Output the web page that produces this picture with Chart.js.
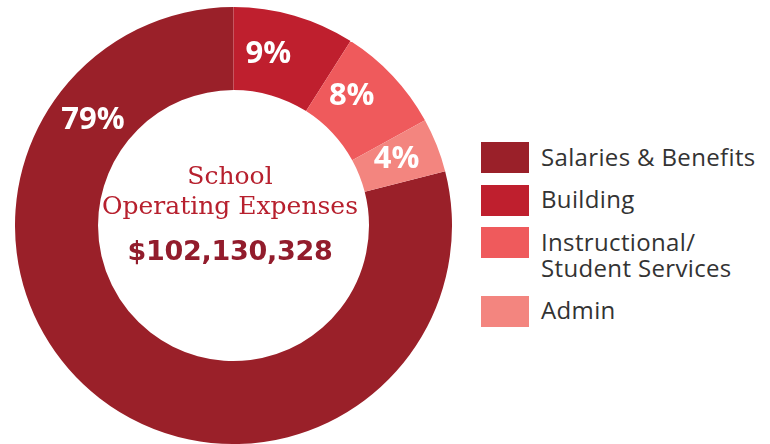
<!DOCTYPE html>
<html>
<head>
<meta charset="utf-8">
<script src="https://cdn.jsdelivr.net/npm/chart.js@4.4.1/dist/chart.umd.min.js"></script>
<style>
  html, body { margin: 0; padding: 0; background: #fff; }
  #root { position: relative; width: 770px; height: 444px; overflow: hidden; }
  #chartbox { position: absolute; left: 15px; top: 7px; width: 437px; height: 437px; }
  .ctr { position: absolute; left: 80px; width: 300px; text-align: center; white-space: nowrap; line-height: 1; }
  .serif { font-family: "DejaVu Serif", serif; color: #b7202e; font-size: 25px; letter-spacing: 0px; }
  .total { font-family: "DejaVu Sans", sans-serif; font-weight: bold; color: #921c2c; font-size: 27px; letter-spacing: -0.3px; }
  .lg-box { position: absolute; left: 481px; width: 48px; height: 31px; }
  .lg-txt { position: absolute; left: 541px; font-family: "Open Sans", sans-serif; font-size: 24px; line-height: 26px; letter-spacing: 0.35px; color: #333; white-space: nowrap; }
</style>
</head>
<body>
<div id="root">
  <div id="chartbox"><canvas id="c"></canvas></div>
</div>
<script>
const categories = ['Salaries & Benefits', 'Building', 'Instructional/\nStudent Services', 'Admin'];
const values = [79, 9, 8, 4];
const colors = ['#9a2029', '#bf1f2e', '#ef5a5c', '#f3857f'];
const centerLines = ['School', 'Operating Expenses'];
const totalLabel = '$102,130,328';

const root = document.getElementById('root');

// center text
const l1 = document.createElement('div'); l1.className = 'ctr serif'; l1.textContent = centerLines[0]; l1.style.top = '163px'; root.appendChild(l1);
const l2 = document.createElement('div'); l2.className = 'ctr serif'; l2.textContent = centerLines[1]; l2.style.top = '193px'; root.appendChild(l2);
const l3 = document.createElement('div'); l3.className = 'ctr total'; l3.textContent = totalLabel; l3.style.top = '237px'; root.appendChild(l3);

// legend
let yPos = 142;
categories.forEach((cat, i) => {
  const b = document.createElement('div'); b.className = 'lg-box'; b.style.top = yPos + 'px'; b.style.background = colors[i]; root.appendChild(b);
  const lines = cat.split('\n');
  const t = document.createElement('div'); t.className = 'lg-txt'; t.style.top = (yPos + 1.5) + 'px';
  lines.forEach((ln, k) => { if (k) t.appendChild(document.createElement('br')); t.appendChild(document.createTextNode(ln)); });
  root.appendChild(t);
  yPos += 31 + 11.5 + (lines.length - 1) * 26;
});

const total = values.reduce((a, b) => a + b, 0);
const labelPos = [0.815, 0.35, 0.33, 0.41];

const pctPlugin = {
  id: 'pct',
  afterDatasetsDraw(chart) {
    const ctx = chart.ctx;
    const meta = chart.getDatasetMeta(0);
    ctx.save();
    ctx.fillStyle = '#ffffff';
    ctx.font = 'bold 31px "Open Sans", sans-serif';
    ctx.textAlign = 'center';
    ctx.textBaseline = 'alphabetic';
    meta.data.forEach((arc, i) => {
      const p = arc.getProps(['x', 'y', 'startAngle', 'endAngle', 'innerRadius', 'outerRadius'], true);
      const a = p.startAngle + labelPos[i] * (p.endAngle - p.startAngle);
      const r = (p.innerRadius + p.outerRadius) / 2;
      const x = p.x + Math.cos(a) * r;
      const y = p.y + Math.sin(a) * r;
      ctx.fillText(Math.round(values[i] / total * 100) + '%', x, y + 11);
    });
    ctx.restore();
  }
};

new Chart(document.getElementById('c'), {
  type: 'doughnut',
  data: {
    labels: categories,
    datasets: [{ data: values, backgroundColor: colors, borderWidth: 0 }]
  },
  options: {
    responsive: true,
    maintainAspectRatio: false,
    animation: false,
    cutout: '62%',
    rotation: (total - values[0]) / total * 360,
    layout: { padding: 0 },
    plugins: { legend: { display: false }, tooltip: { enabled: false } }
  },
  plugins: [pctPlugin]
});
</script>
</body>
</html>
